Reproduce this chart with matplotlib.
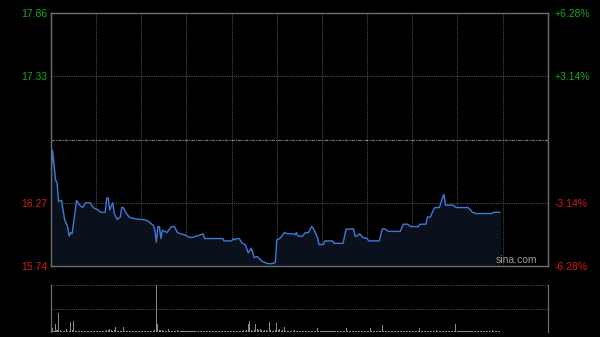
import matplotlib.pyplot as plt
import numpy as np

plt.rcParams['font.family'] = ['Liberation Sans', 'DejaVu Sans']

# intraday price (minutes from open, price)
minutes = [0, 1, 3, 4, 5, 7, 8, 9, 11, 12, 13, 14, 15, 17, 19, 21, 23, 26, 28, 31,
           33, 36, 37, 38, 39, 41, 42, 44, 45, 46, 47, 48, 50, 52, 54, 59, 61, 64, 68, 69,
           70, 71, 72, 73, 74, 77, 80, 82, 84, 86, 89, 92, 94, 99, 101, 102, 114, 115, 120, 121,
           122, 124, 125, 127, 129, 131, 133, 135, 137, 140, 142, 144, 147, 149, 150, 152, 155, 157, 161, 162,
           163, 164, 167, 169, 171, 173, 174, 177, 178, 181, 182, 187, 188, 194, 196, 201, 202, 203, 205, 207,
           210, 211, 218, 220, 222, 224, 232, 234, 237, 239, 244, 245, 249, 250, 252, 254, 255, 258, 260, 261,
           262, 267, 269, 277, 280, 282, 293, 294, 298]
prices = [16.50, 16.71, 16.46, 16.44, 16.28, 16.29, 16.21, 16.13, 16.07, 15.99, 16.02, 16.01, 16.10, 16.29, 16.25, 16.23, 16.27, 16.27, 16.23, 16.21,
          16.19, 16.19, 16.31, 16.31, 16.21, 16.27, 16.18, 16.13, 16.14, 16.15, 16.23, 16.23, 16.18, 16.15, 16.14, 16.13, 16.13, 16.12, 16.08, 16.04,
          15.94, 16.07, 16.07, 15.97, 16.04, 16.02, 16.07, 16.07, 16.02, 16.01, 16.00, 15.98, 15.98, 16.00, 16.01, 15.97, 15.97, 15.95, 15.95, 15.97,
          15.96, 15.97, 15.97, 15.93, 15.92, 15.85, 15.89, 15.81, 15.82, 15.78, 15.77, 15.76, 15.76, 15.77, 15.96, 15.97, 16.02, 16.01, 16.01, 16.00,
          16.02, 15.99, 15.99, 16.02, 16.02, 16.07, 16.06, 15.98, 15.92, 15.92, 15.95, 15.95, 15.93, 15.93, 16.05, 16.05, 15.99, 15.99, 16.01, 15.98,
          15.97, 15.95, 15.95, 16.05, 16.05, 16.03, 16.03, 16.09, 16.09, 16.07, 16.07, 16.09, 16.09, 16.15, 16.15, 16.21, 16.23, 16.23, 16.31, 16.34,
          16.25, 16.25, 16.23, 16.23, 16.19, 16.18, 16.18, 16.19, 16.19]

# per-minute volume (relative units)
volume = [28, 8, 3, 17, 4, 40, 5, 3, 2, 3, 6, 3, 2, 21, 4, 23, 3, 2, 3, 2,
          2, 3, 2, 2, 3, 2, 2, 2, 3, 2, 2, 3, 2, 2, 2, 3, 2, 5, 4, 6,
          5, 3, 4, 11, 3, 2, 2, 3, 11, 3, 2, 2, 3, 2, 2, 2, 2, 3, 2, 2,
          3, 2, 2, 2, 3, 2, 2, 2, 3, 4, 100, 17, 5, 4, 5, 3, 2, 3, 6, 3,
          2, 3, 2, 2, 4, 2, 2, 3, 2, 2, 2, 2, 3, 2, 2, 2, 2, 3, 2, 2,
          2, 3, 2, 2, 2, 2, 3, 2, 2, 2, 3, 2, 2, 2, 2, 3, 2, 2, 2, 2,
          3, 2, 2, 2, 2, 3, 2, 3, 4, 3, 4, 17, 23, 5, 3, 4, 17, 6, 5, 6,
          4, 3, 4, 5, 3, 21, 4, 3, 3, 4, 19, 5, 6, 3, 4, 11, 3, 2, 3, 2,
          2, 3, 5, 2, 2, 3, 2, 2, 2, 3, 2, 2, 2, 3, 2, 2, 3, 9, 3, 2,
          2, 2, 3, 2, 2, 2, 3, 2, 2, 2, 2, 3, 2, 2, 3, 2, 9, 3, 2, 2,
          2, 3, 2, 2, 2, 3, 2, 2, 2, 3, 2, 3, 9, 3, 2, 2, 2, 3, 2, 3,
          15, 3, 2, 2, 3, 2, 2, 2, 3, 2, 2, 2, 3, 2, 2, 2, 2, 3, 2, 2,
          2, 3, 2, 2, 3, 8, 3, 2, 2, 2, 3, 2, 2, 2, 3, 2, 4, 2, 2, 2,
          3, 2, 2, 2, 3, 2, 2, 2, 3, 17, 3, 2, 2, 2, 3, 2, 2, 2, 2, 3,
          2, 2, 3, 2, 2, 2, 3, 2, 2, 2, 3, 2, 2, 4, 3, 2, 2, 3, 2]

session_minutes = 330
prev_close = 16.80
price_ticks = [15.74, 16.27, 16.80, 17.33, 17.86]
left_labels = ['15.74', '16.27', '', '17.33', '17.86']
right_labels = ['-6.28%', '-3.14%', '', '+3.14%', '+6.28%']

BG = '#000000'
GRID = '#4a4a4a'
FRAME = '#6a6a6a'
GREEN = '#1aa51a'
RED = '#d41a1a'

fig = plt.figure(figsize=(6, 3.37), dpi=100, facecolor=BG)
ax = fig.add_axes([0.085, 0.2107, 0.828, 0.7507], facecolor=BG)
axv = fig.add_axes([0.085, 0.0148, 0.828, 0.1395], facecolor=BG)

ax.set_xlim(0, session_minutes)
ax.set_ylim(price_ticks[0], price_ticks[-1])

# grid
for k in range(1, 11):
    xv = session_minutes * k / 11
    ax.axvline(xv, color=GRID, lw=0.8, ls=(0, (1, 1)), zorder=1)
for p in price_ticks[1:-1]:
    if p == prev_close:
        ax.axhline(p, color='#777777', lw=0.8, ls=(0, (3, 1, 1, 1)), zorder=1)
    else:
        ax.axhline(p, color=GRID, lw=0.8, ls=(0, (1, 1)), zorder=1)

ax.fill_between(minutes, prices, price_ticks[0], color='#0b111c', zorder=2)
ax.plot(minutes, prices, color='#3f78d6', lw=1.0, zorder=3)

ax.set_xticks([])
ax.set_yticks(price_ticks)
ax.set_yticklabels(left_labels)
for lbl, p in zip(ax.get_yticklabels(), price_ticks):
    lbl.set_color(GREEN if p > prev_close else RED)
ax.tick_params(axis='y', length=0, pad=3, labelsize=7.5)

axr = ax.twinx()
axr.set_ylim(ax.get_ylim())
axr.set_yticks(price_ticks)
axr.set_yticklabels(right_labels)
for lbl, p in zip(axr.get_yticklabels(), price_ticks):
    lbl.set_color(GREEN if p > prev_close else RED)
axr.tick_params(axis='y', length=0, pad=5, labelsize=7.5)

for a in (ax, axr):
    for s in a.spines.values():
        s.set_color(FRAME)
        s.set_linewidth(0.9)

ax.text(0.896, 0.004, 'sina.com', transform=ax.transAxes, color='#9a9a9a',
        fontsize=7.5, ha='left', va='bottom', zorder=4)

# volume panel
axv.set_xlim(0, session_minutes)
axv.set_ylim(0, 100)
axv.bar(np.arange(len(volume)), volume, width=0.7, color='#8a8a8a', zorder=2)
for yv in (0, 50, 100):
    axv.axhline(yv, color=GRID, lw=0.8, ls=(0, (1, 1)), zorder=1)
axv.set_xticks([])
axv.set_yticks([])
for side in ('top', 'bottom'):
    axv.spines[side].set_visible(False)
for side in ('left', 'right'):
    axv.spines[side].set_color(FRAME)
    axv.spines[side].set_linewidth(0.9)

plt.savefig('out.png', dpi=100, facecolor=BG)
